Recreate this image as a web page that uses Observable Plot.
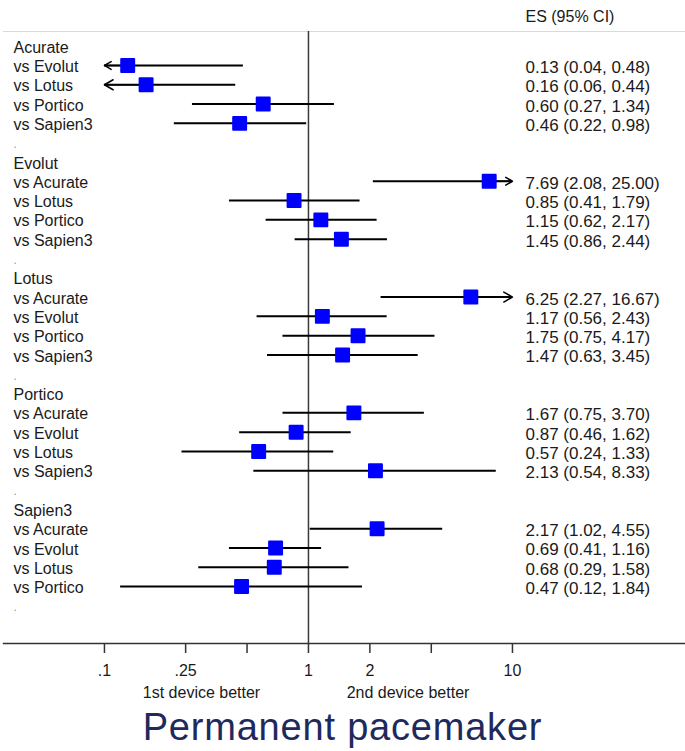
<!DOCTYPE html>
<html>
<head>
<meta charset="utf-8">
<script src="https://cdn.jsdelivr.net/npm/d3@7"></script>
<script src="https://cdn.jsdelivr.net/npm/@observablehq/plot@0.6"></script>
<style>
  html, body { margin: 0; padding: 0; background: #fff; }
  #chart svg { display: block; }
  #title {
    width: 685px; height: 46px; line-height: 46px; text-align: center;
    font-family: "Liberation Sans", Arial, sans-serif; font-size: 38px;
    letter-spacing: 0.8px; color: #1f2a5c;
  }
</style>
</head>
<body>
<div id="chart"></div>
<div id="title">Permanent pacemaker</div>
<script>
// ---- data ----
const devices = ["Acurate", "Evolut", "Lotus", "Portico", "Sapien3"];
const comparators = [
  ["Evolut", "Lotus", "Portico", "Sapien3"],
  ["Acurate", "Lotus", "Portico", "Sapien3"],
  ["Acurate", "Evolut", "Portico", "Sapien3"],
  ["Acurate", "Evolut", "Lotus", "Sapien3"],
  ["Acurate", "Evolut", "Lotus", "Portico"]
];
const es = [
  [0.13, 0.16, 0.60, 0.46],
  [7.69, 0.85, 1.15, 1.45],
  [6.25, 1.17, 1.75, 1.47],
  [1.67, 0.87, 0.57, 2.13],
  [2.17, 0.69, 0.68, 0.47]
];
const ciLow = [
  [0.04, 0.06, 0.27, 0.22],
  [2.08, 0.41, 0.62, 0.86],
  [2.27, 0.56, 0.75, 0.63],
  [0.75, 0.46, 0.24, 0.54],
  [1.02, 0.41, 0.29, 0.12]
];
const ciHigh = [
  [0.48, 0.44, 1.34, 0.98],
  [25.00, 1.79, 2.17, 2.44],
  [16.67, 2.43, 4.17, 3.45],
  [3.70, 1.62, 1.33, 8.33],
  [4.55, 1.16, 1.58, 1.84]
];
const tickValues = [0.1, 0.25, 0.5, 1, 2, 4, 10];
const tickLabels = [".1", ".25", ".5", "1", "2", "4", "10"];
const headerText = "ES (95% CI)";
const sideLabels = ["1st device better", "2nd device better"];

// ---- build rows ----
const labelRows = [];
const comps = [];
const spacerRows = [];
let r = 0;
devices.forEach((dev, g) => {
  labelRows.push({row: r, label: dev});
  r++;
  comparators[g].forEach((c, j) => {
    const d = {row: r, label: "vs " + c, es: es[g][j], lo: ciLow[g][j], hi: ciHigh[g][j]};
    labelRows.push(d);
    comps.push(d);
    r++;
  });
  spacerRows.push({row: r});
  r++;
});
const clipLo = d3.min(tickValues), clipHi = d3.max(tickValues);
const fmt = v => v.toFixed(2);
const clipped = comps.filter(d => d.lo < clipLo || d.hi > clipHi);

const font = "'Liberation Sans', Arial, sans-serif";
const txt = "#1a1a1a";

const chart = Plot.plot({
  width: 685,
  height: 704,
  marginLeft: 3,
  marginRight: 0,
  marginTop: 31,
  marginBottom: 61,
  style: {fontFamily: font, background: "#fff"},
  x: {type: "log", domain: [0.032, 70.5], axis: null, label: null},
  y: {domain: [-0.76, 30.95], reverse: true, axis: null, label: null},
  marks: [
    Plot.frame({anchor: "top", stroke: "#e6d5d0", strokeWidth: 1.2}),
    Plot.ruleX([1], {stroke: "#3a3a3a", strokeWidth: 1.5}),
    Plot.frame({anchor: "bottom", stroke: "#333", strokeWidth: 1.5}),
    Plot.axisX({
      ticks: tickValues,
      tickFormat: d => tickLabels[tickValues.indexOf(d)],
      tickSize: 10, tickPadding: 11, fontSize: 16, label: null,
      stroke: "#333", strokeWidth: 1.5, fill: txt
    }),
    Plot.ruleY(comps, {
      y: "row",
      x1: d => Math.max(d.lo, clipLo),
      x2: d => Math.min(d.hi, clipHi),
      stroke: "#000", strokeWidth: 2
    }),
    Plot.arrow(clipped, {
      x1: "es", y1: "row",
      x2: d => d.hi > clipHi ? clipHi : clipLo, y2: "row",
      stroke: "#000", strokeWidth: 1.5, headLength: 10, headAngle: 60, bend: 0
    }),
    Plot.dot(comps, {
      x: "es", y: "row", symbol: "square", r: 7.3,
      fill: "#0000ff", stroke: "#0000ff", strokeWidth: 2, strokeLinejoin: "round"
    }),
    Plot.text(labelRows, {
      y: "row", text: "label", frameAnchor: "left", dx: 10, dy: 1.5,
      textAnchor: "start", fontSize: 16, fill: txt
    }),
    Plot.text(spacerRows, {
      y: "row", text: () => ".", frameAnchor: "left", dx: 10, dy: 1.5,
      textAnchor: "start", fontSize: 12, fill: "#999"
    }),
    Plot.text(comps, {
      y: "row", text: d => `${fmt(d.es)} (${fmt(d.lo)}, ${fmt(d.hi)})`,
      frameAnchor: "right", dx: -160, dy: 2,
      textAnchor: "start", fontSize: 17, fill: txt
    }),
    Plot.text([headerText], {
      text: d => d, frameAnchor: "top-right", dx: -160, dy: -21,
      textAnchor: "start", fontSize: 16, fill: txt
    }),
    Plot.text([sideLabels[0]], {
      text: d => d, frameAnchor: "bottom-left", dx: 198, dy: 54,
      textAnchor: "middle", fontSize: 16, fill: txt
    }),
    Plot.text([sideLabels[1]], {
      text: d => d, frameAnchor: "bottom-left", dx: 404.5, dy: 54,
      textAnchor: "middle", fontSize: 16, fill: txt
    })
  ]
});
document.getElementById("chart").appendChild(chart);
</script>
</body>
</html>
